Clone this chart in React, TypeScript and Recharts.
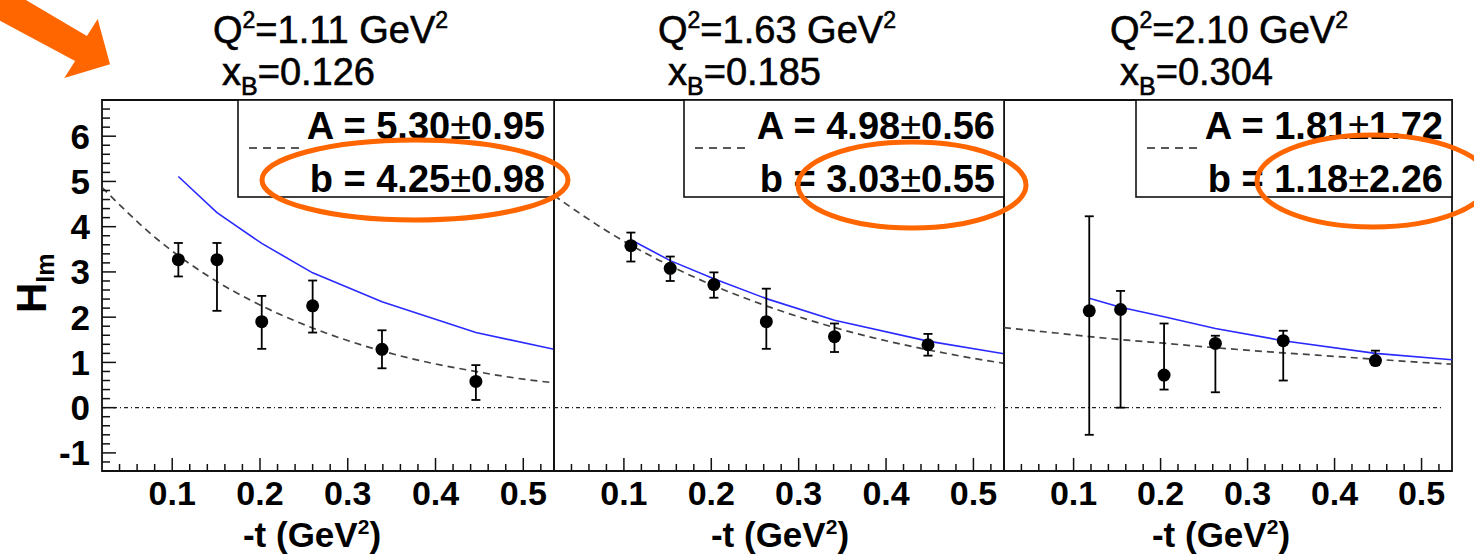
import {
  ComposedChart,
  Line,
  Scatter,
  ErrorBar,
  XAxis,
  YAxis,
  ReferenceLine,
  ReferenceArea,
} from "recharts";

const FONT = '"Liberation Sans", Arial, Helvetica, sans-serif';

const T_MIN = 0.02;
const T_MAX = 0.535;
const Y_MIN = -1.4;
const Y_MAX = 6.8;

// kinematic bins
const binQ2 = ["1.11", "1.63", "2.10"];
const binXB = ["0.126", "0.185", "0.304"];

// fit parameters A·exp(-b t)
const fitA = ["5.30", "4.98", "1.81"];
const fitAErr = ["0.95", "0.56", "1.72"];
const fitB = ["4.25", "3.03", "1.18"];
const fitBErr = ["0.98", "0.55", "2.26"];

// extracted H_Im points: -t, value, lower / upper error
const tBin1 = [0.107, 0.151, 0.202, 0.26, 0.339, 0.446];
const hBin1 = [3.27, 3.27, 1.9, 2.25, 1.29, 0.58];
const loBin1 = [0.37, 1.13, 0.6, 0.59, 0.42, 0.41];
const hiBin1 = [0.37, 0.37, 0.57, 0.56, 0.42, 0.36];

const tBin2 = [0.108, 0.153, 0.203, 0.263, 0.341, 0.448];
const hBin2 = [3.58, 3.08, 2.72, 1.9, 1.57, 1.39];
const loBin2 = [0.35, 0.28, 0.29, 0.6, 0.34, 0.24];
const hiBin2 = [0.29, 0.26, 0.27, 0.73, 0.29, 0.24];

const tBin3 = [0.118, 0.154, 0.204, 0.263, 0.341, 0.447];
const hBin3 = [2.14, 2.17, 0.72, 1.42, 1.48, 1.04];
const loBin3 = [2.74, 2.17, 0.32, 1.08, 0.88, 0.1];
const hiBin3 = [2.09, 0.41, 1.14, 0.17, 0.22, 0.22];

// model curve (blue)
const modelT1 = [0.107, 0.151, 0.202, 0.26, 0.339, 0.446, 0.535];
const modelH1 = [5.11, 4.31, 3.63, 2.98, 2.34, 1.66, 1.29];
const modelT2 = [0.108, 0.153, 0.203, 0.263, 0.341, 0.448, 0.535];
const modelH2 = [3.71, 3.25, 2.85, 2.41, 1.93, 1.47, 1.19];
const modelT3 = [0.118, 0.154, 0.204, 0.263, 0.341, 0.447, 0.535];
const modelH3 = [2.42, 2.22, 2.01, 1.75, 1.48, 1.2, 1.06];

// exponential fit (dashed)
const fitT = [0.02, 0.08, 0.14, 0.2, 0.26, 0.32, 0.38, 0.44, 0.5, 0.535];
const fitH1 = [4.87, 3.77, 2.92, 2.27, 1.76, 1.36, 1.05, 0.82, 0.63, 0.55];
const fitH2 = [4.69, 3.91, 3.26, 2.72, 2.27, 1.89, 1.57, 1.31, 1.09, 0.98];
const fitH3 = [1.77, 1.65, 1.53, 1.43, 1.33, 1.24, 1.16, 1.08, 1.0, 0.96];

const yMajor = [-1, 0, 1, 2, 3, 4, 5, 6];
const xMajor = [0.1, 0.2, 0.3, 0.4, 0.5];

const yTicks = Array.from({ length: 40 }, (_, i) => +(-1.2 + 0.2 * i).toFixed(1));
const xTicks = Array.from({ length: 25 }, (_, i) => +(0.04 + 0.02 * i).toFixed(2));

const bins = [
  { t: tBin1, h: hBin1, lo: loBin1, hi: hiBin1, mt: modelT1, mh: modelH1, fh: fitH1 },
  { t: tBin2, h: hBin2, lo: loBin2, hi: hiBin2, mt: modelT2, mh: modelH2, fh: fitH2 },
  { t: tBin3, h: hBin3, lo: loBin3, hi: hiBin3, mt: modelT3, mh: modelH3, fh: fitH3 },
];

const layout = [
  { left: 102, width: 452, boxLeft: 238, title1: 213, title2: 222, xTitle: 312, yLabels: true },
  { left: 554, width: 450, boxLeft: 684, title1: 658, title2: 668, xTitle: 780, yLabels: false },
  { left: 1004, width: 448, boxLeft: 1136, title1: 1110, title2: 1120, xTitle: 1221, yLabels: false },
];

const TOP = 100;
const BOTTOM = 471;
const HEIGHT = 559;

function YTick(props: any) {
  const { x, y, payload, showLabel } = props;
  const v = payload.value;
  const major = yMajor.some((m) => Math.abs(m - v) < 1e-6);
  return (
    <g>
      <line x1={x} x2={x + (major ? 14 : 8)} y1={y} y2={y} stroke="#111" strokeWidth={1.5} />
      {showLabel && major && (
        <text x={x - 12} y={y + 12.5} textAnchor="end" fontFamily={FONT} fontWeight="bold" fontSize={35} fill="#000">
          {Math.round(v)}
        </text>
      )}
    </g>
  );
}

function XTick(props: any) {
  const { x, y, payload } = props;
  const v = payload.value;
  const major = xMajor.some((m) => Math.abs(m - v) < 1e-6);
  return (
    <g>
      <line x1={x} x2={x} y1={y} y2={y - (major ? 13 : 7)} stroke="#111" strokeWidth={1.5} />
      {major && (
        <text x={x} y={y + 34} textAnchor="middle" fontFamily={FONT} fontWeight="bold" fontSize={34} fill="#000">
          {v.toFixed(1)}
        </text>
      )}
    </g>
  );
}

function Marker(props: any) {
  return <circle cx={props.cx} cy={props.cy} r={6.5} fill="#000" />;
}

function Panel({ i }: { i: number }) {
  const b = bins[i];
  const p = layout[i];
  const points = b.t.map((t, k) => ({ t, h: b.h[k], err: [b.lo[k], b.hi[k]] }));
  const model = b.mt.map((t, k) => ({ t, h: b.mh[k] }));
  const fit = fitT.map((t, k) => ({ t, h: b.fh[k] }));
  const padL = p.yLabels ? 0 : 4;
  const padR = 6;
  const axisW = p.yLabels ? p.left : 0;
  const chartLeft = p.yLabels ? 0 : p.left - padL;
  const width = padL + axisW + p.width + padR;
  const zeroEnd = i === 0 ? T_MAX : 0.525;

  return (
    <div style={{ position: "absolute", left: chartLeft, top: 0 }}>
      <ComposedChart
        width={width}
        height={HEIGHT}
        margin={{ top: TOP, right: padR, bottom: HEIGHT - BOTTOM - 40, left: padL }}
      >
        <XAxis
          type="number"
          dataKey="t"
          domain={[T_MIN, T_MAX]}
          allowDataOverflow
          ticks={xTicks}
          interval={0}
          tickSize={0}
          tickMargin={0}
          axisLine={false}
          tick={<XTick />}
          height={40}
        />
        <YAxis
          type="number"
          dataKey="h"
          domain={[Y_MIN, Y_MAX]}
          allowDataOverflow
          ticks={yTicks}
          interval={0}
          tickSize={0}
          tickMargin={0}
          axisLine={false}
          tick={<YTick showLabel={p.yLabels} />}
          width={axisW}
        />
        <ReferenceLine
          segment={[
            { x: T_MIN, y: 0 },
            { x: zeroEnd, y: 0 },
          ]}
          stroke="#222"
          strokeWidth={1.3}
          strokeDasharray="4 3 1 3"
        />
        <Line
          data={fit}
          dataKey="h"
          type="monotone"
          stroke="#444"
          strokeWidth={1.7}
          strokeDasharray="7 5"
          dot={false}
          isAnimationActive={false}
        />
        <Line
          data={model}
          dataKey="h"
          type="linear"
          stroke="#2a2aff"
          strokeWidth={1.6}
          dot={false}
          isAnimationActive={false}
        />
        <Scatter data={points} dataKey="h" shape={<Marker />} isAnimationActive={false}>
          <ErrorBar dataKey="err" direction="y" width={4.5} stroke="#000" strokeWidth={1.8} isAnimationActive={false} />
        </Scatter>
        <ReferenceArea
          x1={T_MIN}
          x2={T_MAX}
          y1={Y_MIN}
          y2={Y_MAX}
          fill="none"
          fillOpacity={0}
          stroke="#111"
          strokeWidth={1.8}
        />
      </ComposedChart>
    </div>
  );
}

function Overlay() {
  return (
    <svg
      width={1474}
      height={HEIGHT}
      style={{ position: "absolute", left: 0, top: 0, pointerEvents: "none" }}
      fontFamily={FONT}
    >
      {layout.map((p, i) => {
        const right = p.left + p.width;
        return (
          <g key={i}>
            <text x={p.title1} y={43} fontSize={38} fill="#000" stroke="#000" strokeWidth={0.6}>
              Q<tspan dy={-15} fontSize={23}>2</tspan>
              <tspan dy={15}>={binQ2[i]} GeV</tspan>
              <tspan dy={-15} fontSize={23}>2</tspan>
            </text>
            <text x={p.title2} y={85} fontSize={38} fill="#000" stroke="#000" strokeWidth={0.6}>
              x<tspan dy={10} fontSize={25}>B</tspan>
              <tspan dy={-10}>={binXB[i]}</tspan>
            </text>

            <rect x={p.boxLeft} y={TOP} width={right - p.boxLeft} height={97} fill="#fff" stroke="#111" strokeWidth={1.6} />
            <line x1={p.boxLeft + 11} x2={p.boxLeft + 66} y1={148} y2={148} stroke="#222" strokeWidth={1.5} strokeDasharray="8 6" />
            <text x={right - 9} y={139} textAnchor="end" fontSize={38} fontWeight="bold" fill="#000">
              A = {fitA[i]}
              <tspan fontWeight="normal">±</tspan>
              {fitAErr[i]}
            </text>
            <text x={right - 9} y={192} textAnchor="end" fontSize={38} fontWeight="bold" fill="#000">
              b = {fitB[i]}
              <tspan fontWeight="normal">±</tspan>
              {fitBErr[i]}
            </text>

            <text x={p.xTitle} y={547} textAnchor="middle" fontSize={35} fontWeight="bold" fill="#000">
              -t (GeV<tspan dy={-13} fontSize={21}>2</tspan>
              <tspan dy={13}>)</tspan>
            </text>
          </g>
        );
      })}

      <text transform="translate(46,313) rotate(-90)" fontSize={42} fontWeight="bold" fill="#000">
        H<tspan dy={8} fontSize={25}>Im</tspan>
      </text>

      {/* highlight marks */}
      <polygon
        points="-22.6,8.5 75.1,61 64.3,78.1 110,64.2 97.7,18.9 86.9,36 -6.8,-19.3"
        fill="#ff6600"
      />
      <ellipse cx={415} cy={180} rx={153} ry={40} fill="none" stroke="#ff6600" strokeWidth={5} />
      <ellipse cx={912} cy={185} rx={114} ry={43} fill="none" stroke="#ff6600" strokeWidth={5} />
      <ellipse cx={1373} cy={181} rx={116} ry={46} fill="none" stroke="#ff6600" strokeWidth={5} />
    </svg>
  );
}

export default function App() {
  return (
    <div
      style={{
        position: "absolute",
        left: 0,
        top: 0,
        width: 1474,
        height: HEIGHT,
        background: "#fff",
        overflow: "hidden",
      }}
    >
      {[0, 1, 2].map((i) => (
        <Panel key={i} i={i} />
      ))}
      <Overlay />
    </div>
  );
}
